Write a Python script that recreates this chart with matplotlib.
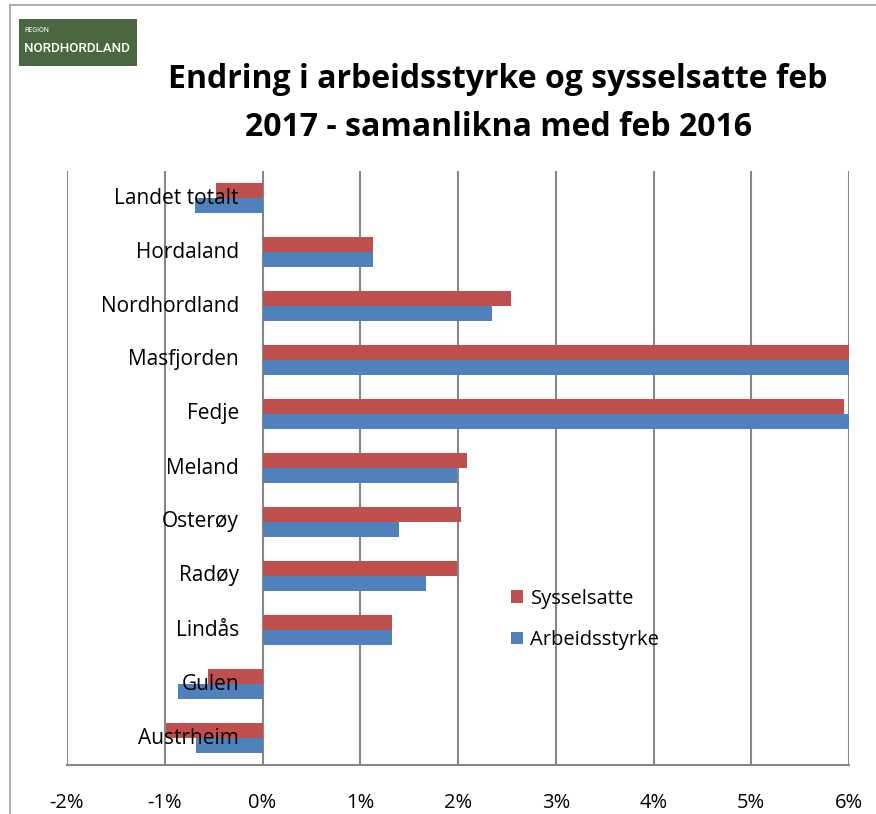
import matplotlib
matplotlib.use("Agg")

import numpy as np
import matplotlib.pyplot as plt
from matplotlib.patches import Rectangle
from matplotlib.ticker import FuncFormatter

# data (percent change feb 2016 -> feb 2017)
kommunar = ["Landet totalt", "Hordaland", "Nordhordland", "Masfjorden", "Fedje",
            "Meland", "Osterøy", "Radøy", "Lindås", "Gulen", "Austrheim"]
sysselsatte = [-0.48, 1.13, 2.54, 6.8, 5.95, 2.09, 2.03, 1.99, 1.32, -0.56, -0.99]
arbeidsstyrke = [-0.69, 1.13, 2.35, 7.2, 6.3, 1.99, 1.40, 1.67, 1.32, -0.86, -0.68]
x_ticks = [-2, -1, 0, 1, 2, 3, 4, 5, 6]

RED = "#C0504D"
BLUE = "#4F81BD"
GRID = "#878787"
FONT = ["Open Sans", "DejaVu Sans"]

plt.rcParams["font.family"] = FONT

fig = plt.figure(figsize=(8.76, 8.14), dpi=100)
W, H = 876, 814

# thin frame round the whole chart
fig.patches.append(Rectangle((10 / W, -0.05), 1.1, 1 - 5 / H + 0.05, transform=fig.transFigure,
                             fill=False, ec="#A0A0A0", lw=1.2))

# logo
fig.patches.append(Rectangle((19 / W, 1 - 66 / H), 118 / W, 47 / H, transform=fig.transFigure,
                             fc="#4A6741", ec="none"))
fig.text(24 / W, 1 - 31 / H, "REGION", color="white", fontsize=5, family="Roboto",
         ha="left", va="center")
fig.text(24 / W, 1 - 49 / H, "NORDHORDLAND", color="white", fontsize=9.6,
         family="Roboto", fontweight="medium", ha="left", va="center")

fig.text(498 / W, 1 - 80 / H, "Endring i arbeidsstyrke og sysselsatte feb",
         fontsize=23, fontweight="bold", ha="center", va="center")
fig.text(498 / W, 1 - 128 / H, "2017 - samanlikna med feb 2016",
         fontsize=23, fontweight="bold", ha="center", va="center")

ax = fig.add_axes([67 / W, 1 - 765 / H, (849 - 67) / W, (765 - 171) / H])

y = np.arange(len(kommunar))
h = 0.28
ax.barh(y - h / 2, sysselsatte, height=h, color=RED, label="Sysselsatte", zorder=3)
ax.barh(y + h / 2, arbeidsstyrke, height=h, color=BLUE, label="Arbeidsstyrke", zorder=3)

ax.set_xlim(x_ticks[0], x_ticks[-1])
ax.set_ylim(len(kommunar) - 0.5, -0.5)
ax.set_xticks(x_ticks)
ax.xaxis.set_major_formatter(FuncFormatter(lambda v, _: f"{v:.0f}%"))
ax.tick_params(axis="x", length=0, labelsize=14.5, pad=20)
ax.set_yticks([])
ax.grid(axis="x", color=GRID, lw=1.5, zorder=1)

for s in ["top", "right", "left"]:
    ax.spines[s].set_visible(False)
ax.spines["bottom"].set_color(GRID)
ax.spines["bottom"].set_linewidth(1.5)

# category names sit just left of the zero line, over the bars
for yi, name in zip(y, kommunar):
    ax.annotate(name, xy=(0, yi), xytext=(-17, 0), textcoords="offset points",
                ha="right", va="center", fontsize=15, zorder=5)

ax.legend(loc="center left", bbox_to_anchor=(0.545, 0.245), frameon=False,
          fontsize=14.5, handlelength=0.6, handleheight=0.6, labelspacing=1.05,
          handletextpad=0.35)

fig.savefig("out.png", dpi=100)
